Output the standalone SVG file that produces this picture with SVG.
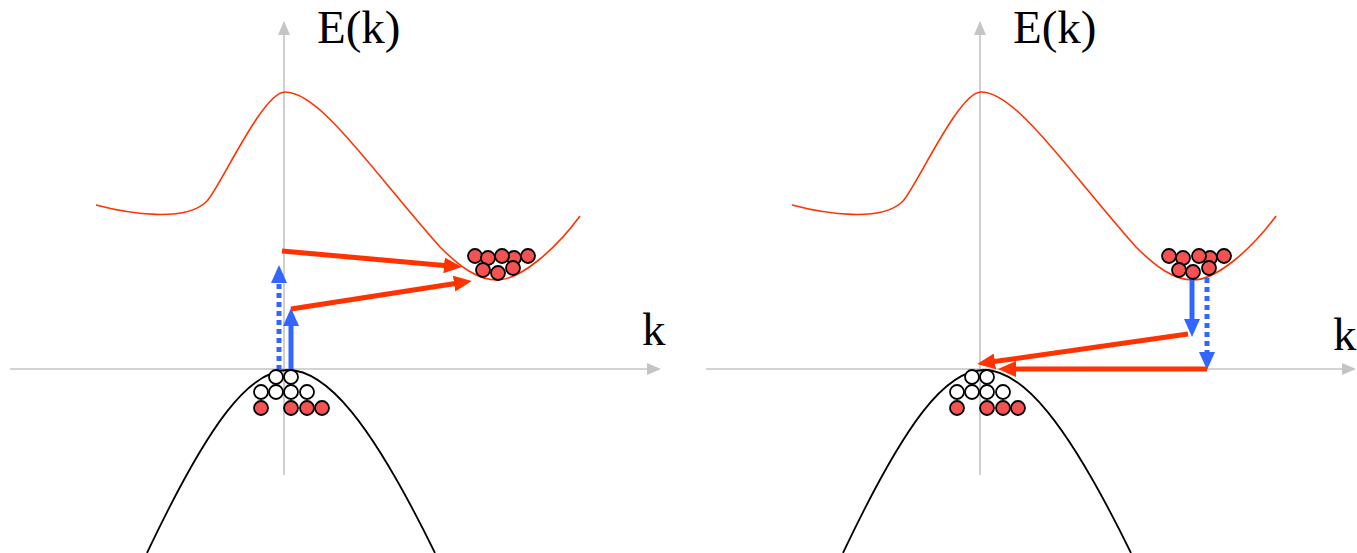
<svg xmlns="http://www.w3.org/2000/svg" width="1357" height="553" viewBox="0 0 1357 553">
<style>
.axis{stroke:#c4c4c4;stroke-width:1.6;fill:none}
.cb{stroke:#ff3300;stroke-width:1.6;fill:none}
.vb{stroke:#000;stroke-width:1.8;fill:none}
.e{fill:#f75252;stroke:#000;stroke-width:1.8}
.h{fill:#fff;stroke:#000;stroke-width:1.8}
.red{stroke:#ff3300;stroke-width:5;fill:none}
.blue{stroke:#3366ff;stroke-width:5;fill:none}
.dot{stroke-dasharray:5 4}
.lbl{font-family:"Liberation Serif","Times New Roman",serif;font-size:47px;fill:#000}
</style>
<defs>
<marker id="ga" markerUnits="userSpaceOnUse" markerWidth="14" markerHeight="12" viewBox="0 0 14 12" refX="4" refY="6" orient="auto"><path d="M0,0L14,6L0,12z" fill="#c4c4c4"/></marker>
<marker id="ra" markerUnits="userSpaceOnUse" markerWidth="18" markerHeight="16" viewBox="0 0 18 16" refX="6" refY="8" orient="auto"><path d="M0,0L18,8L0,16z" fill="#ff3300"/></marker>
<marker id="ba" markerUnits="userSpaceOnUse" markerWidth="18" markerHeight="16" viewBox="0 0 18 16" refX="6" refY="8" orient="auto"><path d="M0,0L18,8L0,16z" fill="#3366ff"/></marker>
<path id="cbp" d="M96,205 C130,214 185,222 206,202 C218,192 262,92 285,92 C320,92 370,168 440,247 C460,267 478,280 497,280 C520,280 555,250 580,216"/>
<path id="vbp" d="M147,553 C210,420 250,370 288,370 C326,370 370,420 435,553"/>
</defs>

<g id="left-axes">
<line class="axis" x1="284" y1="475" x2="284" y2="31" marker-end="url(#ga)"/>
<line class="axis" x1="10" y1="369" x2="651" y2="369" marker-end="url(#ga)"/>
<text class="lbl" x="317" y="43">E(k)</text>
<text class="lbl" x="642" y="345">k</text>
</g>
<g id="right-axes">
<line class="axis" x1="980" y1="475" x2="980" y2="31" marker-end="url(#ga)"/>
<line class="axis" x1="706" y1="369" x2="1346" y2="369" marker-end="url(#ga)"/>
<text class="lbl" x="1013" y="43">E(k)</text>
<text class="lbl" x="1333" y="350">k</text>
</g>

<g id="left-conduction-band"><use href="#cbp" class="cb"/></g>
<g id="left-valence-band"><use href="#vbp" class="vb"/></g>
<g id="right-conduction-band" transform="translate(696,0)"><use href="#cbp" class="cb"/></g>
<g id="right-valence-band" transform="translate(696,0)"><use href="#vbp" class="vb"/></g>

<g id="connectors">
<line class="blue dot" x1="279" y1="370" x2="279" y2="277" marker-end="url(#ba)"/>
<line class="blue" x1="291" y1="370" x2="291" y2="320" marker-end="url(#ba)"/>
<line class="red" x1="282" y1="251" x2="450" y2="265.9" marker-end="url(#ra)"/>
<line class="red" x1="291" y1="309" x2="460" y2="282.8" marker-end="url(#ra)"/>
<line class="blue" x1="1192" y1="278" x2="1192" y2="325" marker-end="url(#ba)"/>
<line class="blue dot" x1="1207" y1="278" x2="1207" y2="358" marker-end="url(#ba)"/>
<line class="red" x1="1188" y1="334" x2="989" y2="362.3" marker-end="url(#ra)"/>
<line class="red" x1="1207" y1="369" x2="1010" y2="369" marker-end="url(#ra)"/>
</g>

<g id="left-electrons">
<circle class="e" cx="514" cy="258" r="7"/>
<circle class="e" cx="475" cy="256" r="7"/>
<circle class="e" cx="488" cy="258" r="7"/>
<circle class="e" cx="502" cy="256" r="7"/>
<circle class="e" cx="528" cy="256" r="7"/>
<circle class="e" cx="483" cy="270" r="7"/>
<circle class="e" cx="498" cy="273" r="7"/>
<circle class="e" cx="513" cy="268" r="7"/>
</g>
<g id="right-electrons">
<circle class="e" cx="1210" cy="258" r="7"/>
<circle class="e" cx="1169" cy="256" r="7"/>
<circle class="e" cx="1183" cy="258" r="7"/>
<circle class="e" cx="1199" cy="256" r="7"/>
<circle class="e" cx="1224" cy="256" r="7"/>
<circle class="e" cx="1179" cy="270" r="7"/>
<circle class="e" cx="1193" cy="272" r="7"/>
<circle class="e" cx="1209" cy="268" r="7"/>
</g>
<g id="left-holes">
<circle class="h" cx="276" cy="377" r="7"/>
<circle class="h" cx="291" cy="377" r="7"/>
<circle class="h" cx="261" cy="392" r="7"/>
<circle class="h" cx="276" cy="392" r="7"/>
<circle class="h" cx="291" cy="392" r="7"/>
<circle class="h" cx="307" cy="392" r="7"/>
<circle class="e" cx="261" cy="408" r="7"/>
<circle class="e" cx="291" cy="408" r="7"/>
<circle class="e" cx="307" cy="408" r="7"/>
<circle class="e" cx="322" cy="408" r="7"/>
</g>
<g id="right-holes">
<circle class="h" cx="972" cy="377" r="7"/>
<circle class="h" cx="987" cy="377" r="7"/>
<circle class="h" cx="957" cy="392" r="7"/>
<circle class="h" cx="972" cy="392" r="7"/>
<circle class="h" cx="987" cy="392" r="7"/>
<circle class="h" cx="1003" cy="392" r="7"/>
<circle class="e" cx="957" cy="408" r="7"/>
<circle class="e" cx="987" cy="408" r="7"/>
<circle class="e" cx="1003" cy="408" r="7"/>
<circle class="e" cx="1018" cy="408" r="7"/>
</g>
</svg>
